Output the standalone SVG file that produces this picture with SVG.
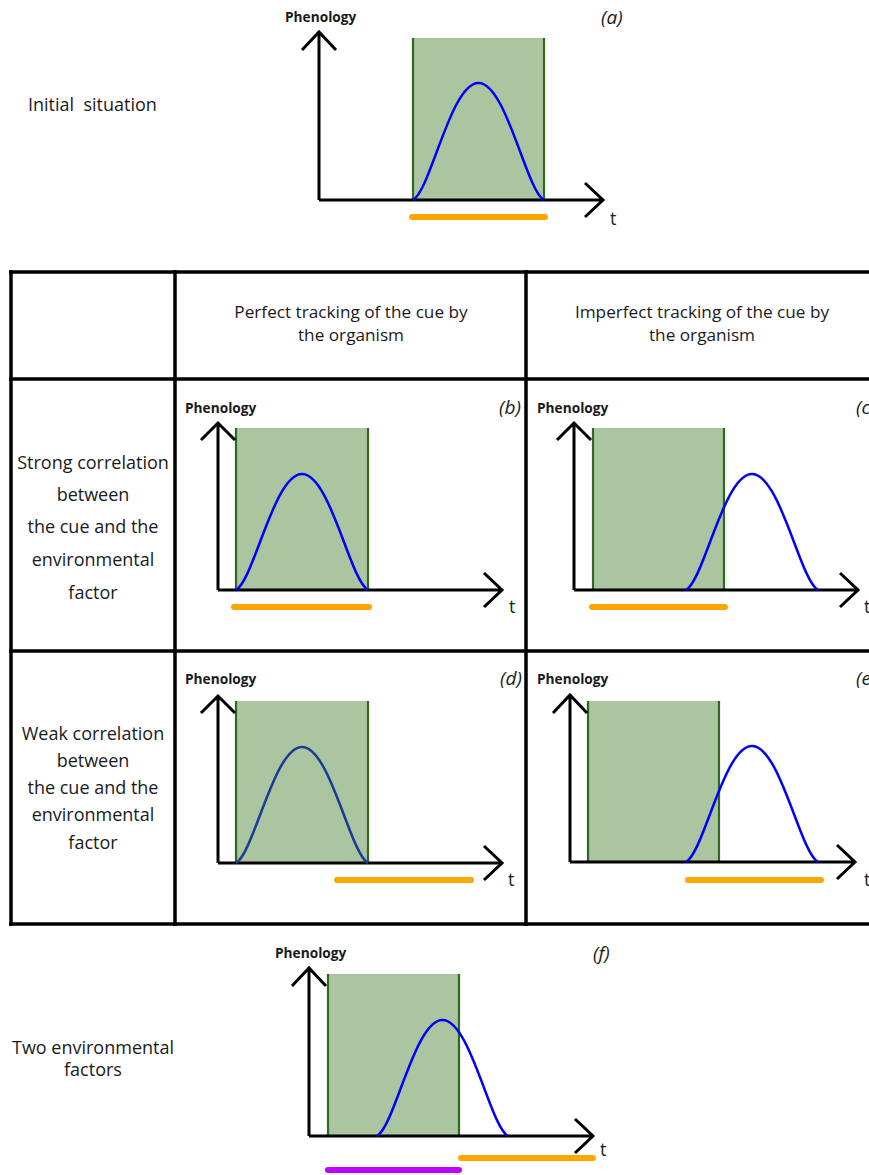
<svg xmlns="http://www.w3.org/2000/svg" xmlns:xlink="http://www.w3.org/1999/xlink" width="869" height="1175" viewBox="0 0 869 1175">
<style>
.lbl{font-family:"Open Sans","Liberation Sans",sans-serif;font-size:18px;fill:#1a1a1a}
.hdr{font-family:"Open Sans","Liberation Sans",sans-serif;font-size:17.2px;fill:#1a1a1a;text-anchor:middle}
.mid{text-anchor:middle}
.ph{font-family:"Open Sans","Liberation Sans",sans-serif;font-size:13.7px;font-weight:bold;fill:#1a1a1a}
.tag{font-family:"Open Sans","Liberation Sans",sans-serif;font-size:19px;font-style:italic;fill:#1a1a1a}
.t{font-family:"Open Sans","Liberation Sans",sans-serif;font-size:18px;fill:#1a1a1a}
.ax{fill:none;stroke:#000;stroke-width:3}
.box{fill:#aac5a0;stroke:none}
.side{stroke:#2d6a1f;stroke-width:2.2}
.curve{fill:none;stroke:#0000ff;stroke-width:2.5}
.navy{stroke:#1c3a96}
.or{stroke:#ffa500;stroke-width:6;stroke-linecap:round}
.pu{stroke:#c000ff;stroke-width:6;stroke-linecap:round}
.tb{stroke:#000;stroke-width:3.5;fill:none}
</style>
<defs>
<path id="bell" d="M0,0 c18,-10 38,-116 66,-116 s48,106 66,116"/>
</defs>

<g id="table">
<line class="tb" x1="9" y1="272" x2="869" y2="272" stroke-width="4"/>
<line class="tb" x1="9" y1="379" x2="869" y2="379"/>
<line class="tb" x1="9" y1="651" x2="869" y2="651"/>
<line class="tb" x1="9" y1="924" x2="869" y2="924"/>
<line class="tb" x1="11" y1="270" x2="11" y2="926" stroke-width="4"/>
<line class="tb" x1="175" y1="270" x2="175" y2="926"/>
<line class="tb" x1="526" y1="270" x2="526" y2="926"/>
</g>

<g id="labels">
<text class="lbl" x="28" y="111" xml:space="preserve">Initial  situation</text>
<text class="hdr" x="351" y="318">Perfect tracking of the cue by</text>
<text class="hdr" x="351" y="341">the organism</text>
<text class="hdr" x="702" y="318">Imperfect tracking of the cue by</text>
<text class="hdr" x="702" y="341">the organism</text>
<g class="lbl mid">
<text x="93" y="469">Strong correlation</text>
<text x="93" y="501">between</text>
<text x="93" y="533">the cue and the</text>
<text x="93" y="566">environmental</text>
<text x="93" y="599">factor</text>
<text x="93" y="740">Weak correlation</text>
<text x="93" y="767">between</text>
<text x="93" y="794">the cue and the</text>
<text x="93" y="821">environmental</text>
<text x="93" y="849">factor</text>
<text x="93" y="1054">Two environmental</text>
<text x="93" y="1076">factors</text>
</g>
</g>

<g id="panel-a">
<rect class="box" x="413" y="38" width="131" height="162"/>
<line class="side" x1="413" y1="38" x2="413" y2="200"/>
<line class="side" x1="544" y1="38" x2="544" y2="200"/>
<path class="ax" d="M319,200 V32 M302,50 L319,32 L336,50 M319,200 H603 M585,183 L603,200 L585,217"/>
<use href="#bell" xlink:href="#bell" class="curve" transform="translate(413,200) scale(0.992,1.009)"/>
<line class="or" x1="412" y1="217" x2="545" y2="217"/>
<text class="ph" x="285" y="22">Phenology</text>
<text class="tag" x="601" y="24">(a)</text>
<text class="t" x="610" y="225">t</text>
</g>

<g id="panel-b">
<rect class="box" x="236" y="428" width="132" height="162"/>
<line class="side" x1="236" y1="428" x2="236" y2="590"/>
<line class="side" x1="368" y1="428" x2="368" y2="590"/>
<path class="ax" d="M218,590 V423 M201,440 L218,423 L235,440 M218,590 H503 M484,573 L502,590 L484,607"/>
<use href="#bell" xlink:href="#bell" class="curve" transform="translate(236,590)"/>
<line class="or" x1="234" y1="607" x2="369" y2="607"/>
<text class="ph" x="185" y="413">Phenology</text>
<text class="tag" x="499" y="414">(b)</text>
<text class="t" x="509" y="613">t</text>
</g>

<g id="panel-c">
<rect class="box" x="593" y="428" width="131" height="162"/>
<line class="side" x1="593" y1="428" x2="593" y2="590"/>
<line class="side" x1="724" y1="428" x2="724" y2="590"/>
<path class="ax" d="M574,590 V423 M557,440 L574,423 L591,440 M574,590 H859 M840,573 L858,590 L840,607"/>
<use href="#bell" xlink:href="#bell" class="curve" transform="translate(686,590)"/>
<line class="or" x1="592" y1="607" x2="725" y2="607"/>
<text class="ph" x="537" y="413">Phenology</text>
<text class="tag" x="856" y="414">(c</text>
<text class="t" x="864" y="613">t</text>
</g>

<g id="panel-d">
<rect class="box" x="236" y="701" width="132" height="162"/>
<line class="side" x1="236" y1="701" x2="236" y2="863"/>
<line class="side" x1="368" y1="701" x2="368" y2="863"/>
<path class="ax" d="M218,863 V696 M201,713 L218,696 L235,713 M218,863 H503 M484,846 L502,863 L484,880"/>
<use href="#bell" xlink:href="#bell" class="curve navy" transform="translate(236,863)"/>
<line class="or" x1="337" y1="880" x2="471" y2="880"/>
<text class="ph" x="185" y="684">Phenology</text>
<text class="tag" x="500" y="685">(d)</text>
<text class="t" x="508" y="886">t</text>
</g>

<g id="panel-e">
<rect class="box" x="588" y="701" width="131" height="161"/>
<line class="side" x1="588" y1="701" x2="588" y2="862"/>
<line class="side" x1="719" y1="701" x2="719" y2="862"/>
<path class="ax" d="M570,862 V695 M553,713 L570,695 L587,713 M570,862 H855 M837,845 L855,862 L837,879"/>
<use href="#bell" xlink:href="#bell" class="curve" transform="translate(686,862)"/>
<line class="or" x1="688" y1="880" x2="821" y2="880"/>
<text class="ph" x="537" y="684">Phenology</text>
<text class="tag" x="856" y="685">(e</text>
<text class="t" x="864" y="886">t</text>
</g>

<g id="panel-f">
<rect class="box" x="328" y="974" width="131" height="162"/>
<line class="side" x1="328" y1="974" x2="328" y2="1136"/>
<line class="side" x1="459" y1="974" x2="459" y2="1136"/>
<path class="ax" d="M309,1136 V968 M292,986 L309,968 L326,986 M309,1136 H593 M575,1119 L593,1136 L575,1153"/>
<use href="#bell" xlink:href="#bell" class="curve" transform="translate(377,1136) scale(0.992,1)"/>
<line class="or" x1="461" y1="1158" x2="593" y2="1158"/>
<line class="pu" x1="328" y1="1170" x2="459" y2="1170"/>
<text class="ph" x="275" y="958">Phenology</text>
<text class="tag" x="593" y="960">(f)</text>
<text class="t" x="600" y="1156">t</text>
</g>
</svg>
